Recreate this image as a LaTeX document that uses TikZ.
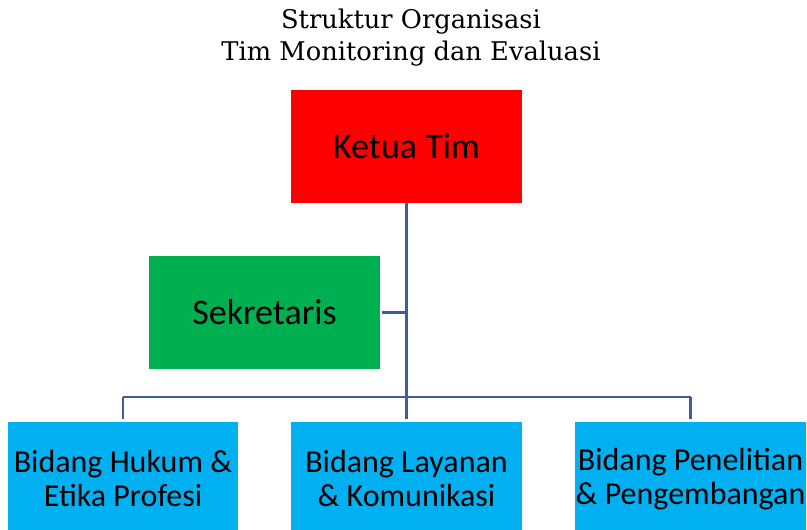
\documentclass[tikz,border=0pt]{standalone}
\usepackage{fontspec}
\setmainfont{Carlito}
\newfontfamily\titlefont{DejaVu Serif}
\usetikzlibrary{positioning}
\definecolor{orgRed}{HTML}{FF0000}
\definecolor{orgGreen}{HTML}{00B050}
\definecolor{orgCyan}{HTML}{00B0F0}
\definecolor{orgLine}{HTML}{3C5DA0}
\tikzset{
  unit/.style     ={inner sep=0pt,minimum width=173pt,minimum height=85pt,
                    align=center,text=black},
  headbox/.style  ={unit,fill=orgRed,font=\fontsize{27}{30}\selectfont},
  secbox/.style   ={unit,fill=orgGreen,font=\fontsize{27}{30}\selectfont},
  divbox/.style   ={unit,fill=orgCyan,font=\fontsize{24}{25.5}\selectfont},
  link/.style     ={orgLine,line width=2pt},
  ttl/.style      ={font=\titlefont\fontsize{19.3}{24}\selectfont,align=center},
}
\begin{document}
\begin{tikzpicture}[x=0.75pt,y=-0.75pt]
\useasboundingbox (0,0) rectangle (807,530);
\node[ttl] (title) at (411,38) {Struktur Organisasi\\Tim Monitoring dan Evaluasi};

\node[headbox] (ketua) at (406.5,146.5) {Ketua Tim};
\node[secbox] (sekr) at (264.5,312.5) {Sekretaris};
\foreach \x/\n/\t in {123/hukum/{Bidang Hukum \&\\Etika Profesi},
                      406.5/layanan/{Bidang Layanan\\\& Komunikasi},
                      690.5/riset/{Bidang Penelitian\\\& Pengembangan}}
  \node[divbox] (\n) at (\x,479) {\t};

\coordinate (bus) at (406.5,397);
\draw[link] (ketua.south) -- (ketua.south |- bus);
\draw[link,shorten <=1.5pt] (sekr.east) -- (sekr.east -| ketua.south);
\draw[link] (hukum.north |- bus) -- (riset.north |- bus);
\foreach \n in {hukum,layanan,riset}
  \draw[link,shorten >=2pt] (\n.north |- bus) -- (\n.north);
\end{tikzpicture}
\end{document}
